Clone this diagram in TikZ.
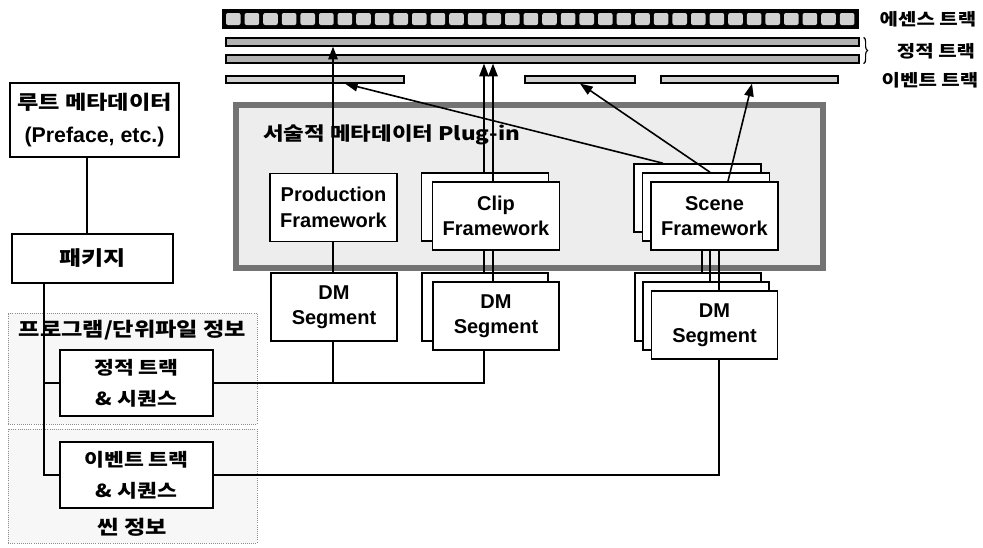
\documentclass[tikz,border=0pt]{standalone}
\usepackage{fontspec}
\setmainfont{Liberation Sans}
\newfontfamily\kr[FakeStretch=1.2]{Noto Sans CJK KR}
\usetikzlibrary{arrows.meta,positioning,calc,decorations.pathreplacing}

\begin{document}
\begin{tikzpicture}[
    x=0.75pt, y=-0.75pt,
    box/.style={rectangle, draw=black, line width=1.2pt, fill=white, inner sep=0pt,
                align=center, font=\fontsize{15}{19}\selectfont\bfseries},
    fw/.style={box, minimum width=95.25pt, minimum height=51pt},
    seg/.style={box, minimum width=94.5pt, minimum height=51pt},
    seq/.style={box, minimum width=114.75pt, minimum height=49.5pt,
                font=\kr\fontsize{13.5}{23}\selectfont\bfseries},
    area/.style={rectangle, draw=black!45, densely dotted, line width=0.6pt, fill=black!3,
                 minimum width=186.75pt, inner sep=0pt},
    bar/.style={rectangle, draw=black, line width=0.9pt, inner sep=0pt},
    lbl/.style={font=\kr\fontsize{12.5}{15}\selectfont\bfseries, inner sep=0pt},
    title/.style={font=\kr\fontsize{14.5}{18}\selectfont\bfseries, inner sep=0pt},
    wire/.style={line width=1.2pt},
    arrow/.style={-{Triangle[length=9.5pt,width=7pt]}, line width=1.2pt}
]
  \useasboundingbox (0,0) rectangle (983,547);

  % Tracks
  \node[bar, fill=black, minimum width=476.25pt, minimum height=13.5pt] (ess) at (540.5,19) {};
  \foreach \i in {0,...,33}
    \fill[black!18, rounded corners=1.5pt] ({226+\i*18.6},13) rectangle +(14.6,12);
  \node[bar, fill=black!30, minimum width=474.75pt, minimum height=6pt] (st1) at (542.5,42) {};
  \node[bar, fill=black!30, minimum width=474.75pt, minimum height=6pt] (st2) at (542.5,59) {};
  \node[bar, fill=black!18, minimum width=133.5pt, minimum height=5.25pt] (ev1) at (315,79.5) {};
  \node[bar, fill=black!18, minimum width=82.5pt, minimum height=5.25pt] (ev2) at (580,79.5) {};
  \node[bar, fill=black!18, minimum width=132.75pt, minimum height=5.25pt] (ev3) at (749.5,79.5) {};
  \draw[line width=0.9pt, decorate, decoration={brace, amplitude=3pt}]
    ([xshift=3pt]st1.north east) -- ([xshift=3pt]st2.south east);

  \node[lbl] (esslbl) at (928,19) {에센스 트랙};
  \node[lbl] (stlbl) at (936,51) {정적 트랙};
  \node[lbl] (evlbl) at (930,80) {이벤트 트랙};

  % Left column
  \node[box, minimum width=126.75pt, minimum height=55.5pt] (root) at (94.5,120)
    {{\kr\fontsize{14.5}{18}\selectfont 루트 메타데이터}\\[6pt]{\fontsize{16}{19}\selectfont(Preface, etc.)}};
  \node[box, minimum width=120.75pt, minimum height=36.75pt,
        font=\kr\fontsize{15}{18}\selectfont\bfseries] (pkg) at (92.5,258.5) {패키지};

  \node[area, minimum height=83.25pt] (progarea) at (132.5,368.5) {};
  \node[area, minimum height=85.5pt] (scenearea) at (132.5,486) {};
  \node[title] (progtitle) at (132.5,330) {프로그램/단위파일 정보};
  \node[title] (scenetitle) at (132.5,527) {씬 정보};

  \node[seq] (stseq) at (136.5,383) {정적 트랙\\\& 시퀀스};
  \node[seq] (evseq) at (136.5,475) {이벤트 트랙\\\& 시퀀스};

  % Plug-in
  \node[rectangle, draw=black!55, line width=3.8pt, fill=black!7,
        minimum width=440.25pt, minimum height=122.25pt] (plugin) at (529.5,186.5) {};
  \node[title, anchor=west, font=\kr\fontsize{14}{18}\selectfont\bfseries] (plugtitle) at (263,135)
    {서술적 메타데이터 Plug-in};

  % Frameworks
  \node[fw] (pfw) at (333.5,207.5) {Production\\Framework};
  \node[fw] (cfwb) at (485,207) {};
  \node[fw] (cfw) at (496,216) {Clip\\Framework};
  \node[fw] (sfwb) at (697.5,198) {};
  \node[fw] (sfwm) at (706,207) {};
  \node[fw] (sfw) at (714.5,216) {Scene\\Framework};

  % DM segments
  \node[seg] (pdm) at (334,307) {DM\\Segment};
  \node[seg] (cdmb) at (485,307) {};
  \node[seg] (cdm) at (496,316) {DM\\Segment};
  \node[seg] (sdmb) at (698,307) {};
  \node[seg] (sdmm) at (706,316) {};
  \node[seg] (sdm) at (714.5,325) {DM\\Segment};

  % Wire positions
  \coordinate (px) at (333,0);
  \coordinate (cx1) at (484,0);
  \coordinate (cx2) at (493,0);
  \coordinate (sx1) at (702,0);
  \coordinate (sx2) at (710,0);
  \coordinate (sx3) at (719,0);
  \coordinate (sa) at (663,0);
  \coordinate (sc) at (728,0);
  \coordinate (ea) at (345,0);
  \coordinate (eb) at (580,0);
  \coordinate (ec) at (752,0);
  \coordinate (tx) at (44,0);
  \coordinate (rx) at (87,0);

  % Connectors
  \draw[wire] (rx |- root.south) -- (rx |- pkg.north);
  \draw[wire] (tx |- pkg.south) |- (evseq.west);
  \draw[wire] (tx |- stseq.west) -- (stseq.west);
  \draw[wire] (stseq.east) -| (cx1 |- cdm.south);
  \draw[wire] (px |- pdm.south) -- (px |- stseq.east);
  \draw[wire] (evseq.east) -| (sx3 |- sdm.south);

  \draw[wire] (px |- pdm.north) -- (px |- pfw.south);
  \draw[arrow] (px |- pfw.north) -- (px |- st1.south);
  \draw[wire] (cx1 |- cfw.south) -- (cx1 |- cdmb.north);
  \draw[wire] (cx2 |- cfw.south) -- (cx2 |- cdm.north);
  \draw[arrow] (cx1 |- cfwb.north) -- (cx1 |- st2.south);
  \draw[arrow] (cx2 |- cfw.north) -- (cx2 |- st2.south);
  \draw[wire] (sx1 |- sfw.south) -- (sx1 |- sdmb.north);
  \draw[wire] (sx2 |- sfw.south) -- (sx2 |- sdmm.north);
  \draw[wire] (sx3 |- sfw.south) -- (sx3 |- sdm.north);
  \draw[arrow] (sa |- sfwb.north) -- (ea |- ev1.south);
  \draw[arrow] (sx2 |- sfwm.north) -- (eb |- ev2.south);
  \draw[arrow] (sc |- sfw.north) -- (ec |- ev3.south);

\end{tikzpicture}
\end{document}
